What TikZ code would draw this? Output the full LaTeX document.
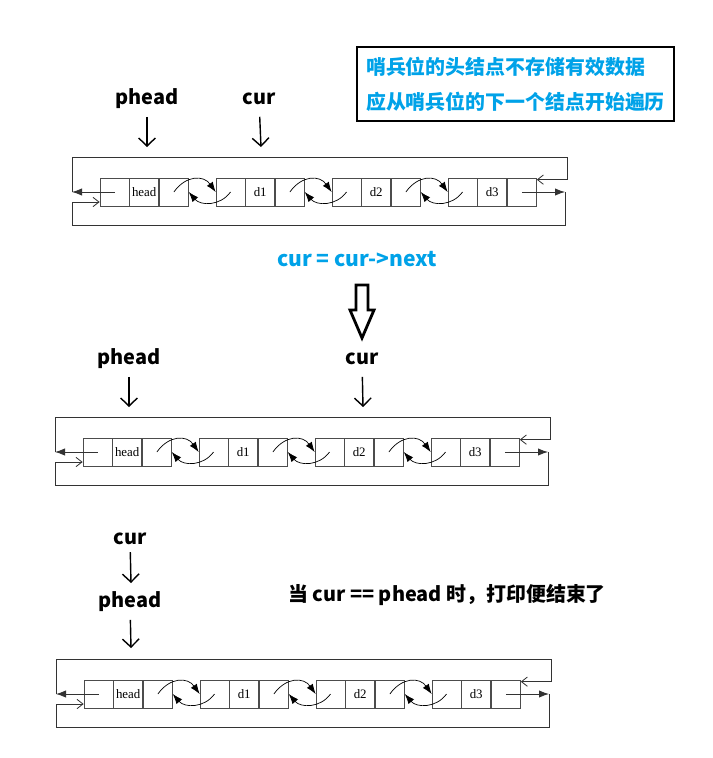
\documentclass[tikz,border=0pt]{standalone}
\usepackage{fontspec}
\setmainfont{Liberation Serif}
\newfontfamily\cjk{Noto Sans CJK SC}
\usetikzlibrary{arrows.meta,positioning,calc}
\definecolor{noteblue}{RGB}{0,162,232}
\tikzset{
  cell/.style={draw=black!70, line width=0.6pt, minimum width=0.87cm,
    minimum height=0.84cm, inner sep=0pt, font=\fontsize{11}{13}\selectfont},
  link/.style={line width=0.6pt, -{Latex[length=3mm,width=2.2mm]}},
  wire/.style={line width=0.7pt, draw=black!80},
  ptr/.style={font=\cjk\bfseries\fontsize{17}{20}\selectfont, inner sep=0pt,
    text height=0.38cm, text depth=0.12cm},
  ptrarrow/.style={line width=1.2pt, shorten <=7pt,
    -{Straight Barb[length=2.4mm,width=5mm,line width=1.2pt]}},
}
\begin{document}
\begin{tikzpicture}[x=0.03cm,y=-0.03cm]
  \useasboundingbox (0,0) rectangle (713,758);

  % Note box in the upper right corner
  \node[draw, line width=2.4pt, minimum width=9.51cm, minimum height=2.22cm,
    text=noteblue, font=\cjk\bfseries\fontsize{17}{30}\selectfont, align=left]
    (note) at (515.5,84) {哨兵位的头结点不存储有效数据\\应从哨兵位的下一个结点开始遍历};

  % The same circular list, drawn three times
  \foreach \p/\dx/\dy in {A/0/0, B/-17/260, C/-16/502} {
    \begin{scope}[shift={(\dx,\dy)}]
      % cells: prev | data | next
      \foreach \j/\t in {1/head, 2/d1, 3/d2, 4/d3} {
        \node[cell] (\p\j a) at ({114.5+116*(\j-1)},192) {};
        \node[cell, right=0pt of \p\j a] (\p\j b) {\t};
        \node[cell, right=0pt of \p\j b] (\p\j c) {};
      }
      % links between neighbours
      \foreach \j/\k in {1/2, 2/3, 3/4} {
        \draw[link] (\p\j c.center) .. controls +(12,-17) and +(-12,-17) .. (\p\k a.west);
        \draw[link] (\p\k a.center) .. controls +(-10,14) and +(12,14) .. (\p\j c.east);
      }
      % wrap-around wires
      \coordinate (\p lw) at (72,192);
      \coordinate (\p rt) at (567,157);
      \coordinate (\p lb) at (72,202);
      \coordinate (\p rb) at (565,225);
      \coordinate (\p rw) at (565,192);
      \draw[wire, -{Latex[length=3mm,width=2.2mm]}] (\p1a.center) -- (\p lw);
      \draw[wire, -{Straight Barb[length=1.8mm,width=2.8mm]}] (\p lw) |- (\p rt)
        |- ([yshift=-0.06cm]\p4c.north east);
      \draw[wire, -{Straight Barb[length=1.8mm,width=2.8mm]}] (\p lb) -- (\p1a.west |- \p lb);
      \draw[wire] (\p lb) |- (\p rb) -- (\p rw);
      \draw[wire, -{Latex[length=3mm,width=2.2mm]}] (\p4c.center) -- (\p rw);
    \end{scope}
  }

  % Pointers, first list
  \node[ptr] (ph1) at (147,100) {phead};
  \node[ptr] (cur1) at (259,100) {cur};
  \coordinate (ph1t) at (147,147);
  \coordinate (cur1t) at (261,147);
  \draw[ptrarrow] (ph1) -- (ph1t);
  \draw[ptrarrow] (cur1) -- (cur1t);

  % Step text and hollow arrow
  \node[ptr, text=noteblue, font=\cjk\bfseries\fontsize{18}{20}\selectfont]
    (stepnote) at (357,262) {cur = cur->next};
  \draw[line width=2.4pt, line join=miter] (356,285) -- (368,285) -- (368,310)
    -- (374,310) -- (362,338) -- (350,310) -- (356,310) -- cycle;

  % Pointers, second list
  \node[ptr] (ph2) at (129,360) {phead};
  \node[ptr] (cur2) at (362,360) {cur};
  \coordinate (ph2t) at (129,407);
  \coordinate (cur2t) at (363,407);
  \draw[ptrarrow] (ph2) -- (ph2t);
  \draw[ptrarrow] (cur2) -- (cur2t);

  % Pointers, third list
  \node[ptr] (cur3) at (130,540) {cur};
  \node[ptr] (ph3) at (130,603) {phead};
  \coordinate (cur3t) at (131,583);
  \coordinate (ph3t) at (131,648);
  \draw[ptrarrow, shorten <=3pt] (cur3) -- (cur3t);
  \draw[ptrarrow] (ph3) -- (ph3t);

  \node[ptr] (endnote) at (447,597) {当 cur == phead 时，打印便结束了};
\end{tikzpicture}
\end{document}
